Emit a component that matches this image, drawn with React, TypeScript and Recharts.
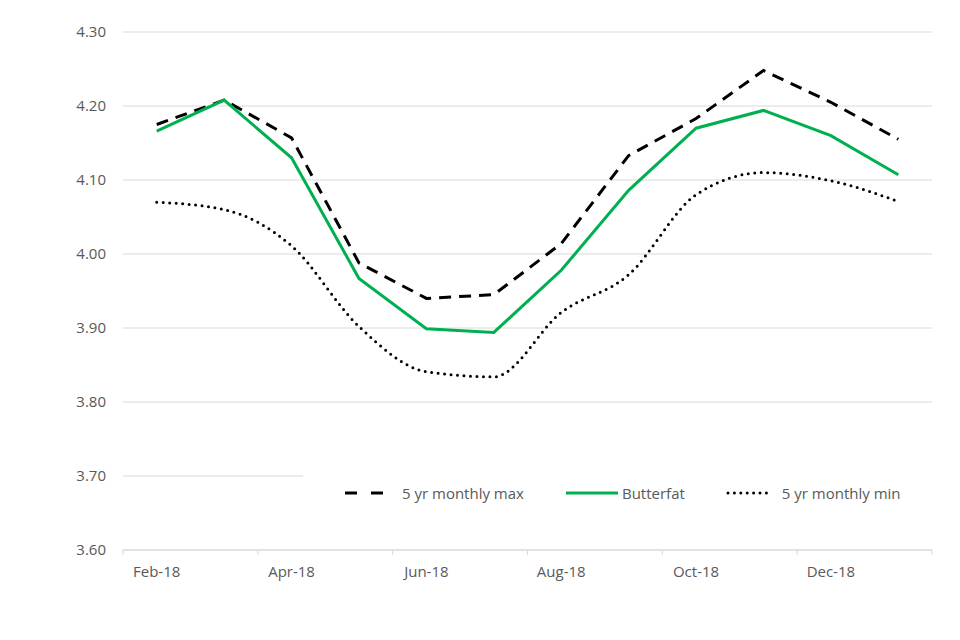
import { CartesianGrid, Legend, Line, LineChart, XAxis, YAxis } from "recharts";

const months = ["Feb-18", "Mar-18", "Apr-18", "May-18", "Jun-18", "Jul-18", "Aug-18", "Sep-18", "Oct-18", "Nov-18", "Dec-18", "Jan-19"];
const max5yr = [4.175, 4.208, 4.157, 3.988, 3.94, 3.945, 4.014, 4.133, 4.183, 4.248, 4.205, 4.155];
const butterfat = [4.166, 4.208, 4.13, 3.967, 3.899, 3.894, 3.978, 4.086, 4.17, 4.194, 4.16, 4.107];
const min5yr = [4.07, 4.06, 4.011, 3.902, 3.841, 3.834, 3.921, 3.972, 4.08, 4.11, 4.099, 4.071];
const yTicks = [3.6, 3.7, 3.8, 3.9, 4.0, 4.1, 4.2, 4.3];

const data = months.map((m, i) => ({ month: m, max: max5yr[i], fat: butterfat[i], min: min5yr[i] }));

const FONT = "'Open Sans', sans-serif";
const TEXT = "#595959";
const GRID = "#d9d9d9";
const GREEN = "#00b050";
const PLOT_W = 960 - 123 - 28;
const HALF = PLOT_W / months.length / 2;

function XTick(props: any) {
  const { x, y, payload, index, visibleTicksCount } = props;
  const last = index === visibleTicksCount - 1;
  return (
    <g>
      <line x1={x - HALF} x2={x - HALF} y1={y} y2={y + 5} stroke={GRID} />
      {last ? <line x1={x + 3 * HALF} x2={x + 3 * HALF} y1={y} y2={y + 5} stroke={GRID} /> : null}
      <text x={x} y={y + 27} textAnchor="middle" fill={TEXT} fontSize={15} fontFamily={FONT}>
        {payload.value}
      </text>
    </g>
  );
}

function LegendBox() {
  const item = (swatch: any, w: number, gap: number, label: string, after: number) => (
    <div style={{ display: "flex", alignItems: "center", marginRight: after }}>
      <svg width={w} height={10} style={{ marginRight: gap }}>
        {swatch}
      </svg>
      <span>{label}</span>
    </div>
  );
  return (
    <div style={{ display: "flex", alignItems: "center", height: "100%", paddingLeft: 42, fontFamily: FONT, fontSize: 15, color: TEXT }}>
      {item(<line x1={0} x2={38} y1={5} y2={5} stroke="#000" strokeWidth={3} strokeDasharray="12 14" />, 38, 19, "5 yr monthly max", 42)}
      {item(<line x1={0} x2={52} y1={5} y2={5} stroke={GREEN} strokeWidth={3} />, 52, 4, "Butterfat", 41)}
      {item(<line x1={2} x2={46} y1={5} y2={5} stroke="#000" strokeWidth={3} strokeLinecap="round" strokeDasharray="0 6.4" />, 46, 10, "5 yr monthly min", 0)}
    </div>
  );
}

export default function App() {
  return (
    <div style={{ margin: -8, width: 960, height: 640, background: "#fff" }}>
      <LineChart width={960} height={640} data={data} margin={{ top: 32, right: 28, left: 0, bottom: 0 }}>
        <CartesianGrid vertical={false} stroke={GRID} />
        <XAxis
          dataKey="month"
          height={90}
          padding={{ left: HALF, right: HALF }}
          interval={1}
          tickLine={false}
          tickSize={0}
          tickMargin={0}
          axisLine={{ stroke: GRID }}
          tick={<XTick />}
        />
        <YAxis
          width={123}
          domain={[3.6, 4.3]}
          ticks={yTicks}
          tickFormatter={(v: number) => v.toFixed(2)}
          axisLine={false}
          tickLine={false}
          tickSize={0}
          tickMargin={17}
          tick={{ fill: TEXT, fontSize: 15, fontFamily: FONT }}
        />
        <Legend
          verticalAlign="middle"
          align="center"
          layout="horizontal"
          content={<LegendBox />}
          wrapperStyle={{ left: 303, top: 470, width: 629, height: 46, background: "#fff" }}
        />
        <Line dataKey="max" type="linear" stroke="#000" strokeWidth={3} strokeDasharray="12 8" dot={false} isAnimationActive={false} />
        <Line dataKey="fat" type="linear" stroke={GREEN} strokeWidth={3} dot={false} isAnimationActive={false} />
        <Line dataKey="min" type="monotone" stroke="#000" strokeWidth={3} strokeLinecap="round" strokeDasharray="0 6.5" dot={false} isAnimationActive={false} />
      </LineChart>
    </div>
  );
}
